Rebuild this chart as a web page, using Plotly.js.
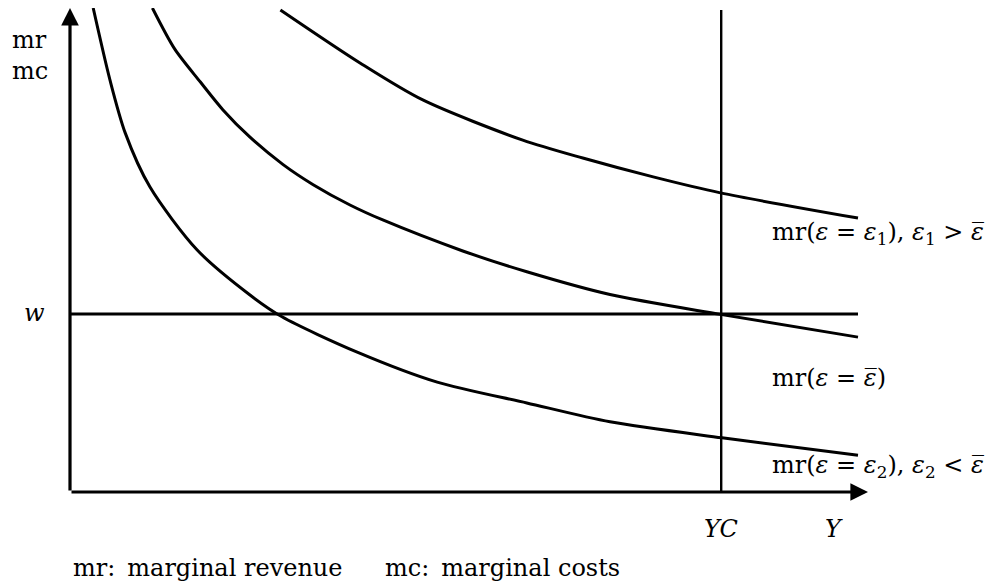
<!DOCTYPE html>
<html>
<head>
<meta charset="utf-8">
<script src="https://cdn.plot.ly/plotly-3.0.1.min.js"></script>
<style>
html,body{margin:0;padding:0;background:#fff;}
#chart{width:1007px;height:583px;}
</style>
</head>
<body>
<div id="chart"></div>
<script>
// Curve mr(eps = eps2), eps2 < eps-bar (lowest)
const lowX = [0.29, 0.50, 0.69, 1.00, 1.59, 2.25, 2.65, 3.59, 4.59, 5.71, 6.75, 8.15, 9.85];
const lowY = [10.0, 8.51, 7.42, 6.30, 5.00, 4.07, 3.62, 2.89, 2.27, 1.84, 1.45, 1.12, 0.76];
// Curve mr(eps = eps-bar) (middle)
const midX = [1.03, 1.31, 1.63, 1.91, 2.25, 2.66, 3.04, 3.50, 3.91, 4.91, 5.71, 6.75, 8.13, 9.85];
const midY = [10.0, 9.15, 8.47, 7.90, 7.33, 6.77, 6.35, 5.93, 5.62, 4.98, 4.55, 4.08, 3.67, 3.20];
// Curve mr(eps = eps1), eps1 > eps-bar (highest)
const highX = [2.63, 3.63, 4.41, 5.66, 6.41, 7.29, 8.13, 9.85];
const highY = [9.96, 8.86, 8.10, 7.27, 6.90, 6.51, 6.18, 5.66];
// wage level and YC capacity
const wLevel = 3.68;
const wLineX = [0, 9.85];
const ycLevel = 8.14;
const ycLineY = [0, 9.96];
// axes extents
const xAxisEnd = 9.975;
const yAxisEnd = 10.0;

const black = '#000';
const traces = [
  {x: lowX, y: lowY, mode: 'lines', line: {color: black, width: 3, shape: 'spline', smoothing: 0.8}},
  {x: midX, y: midY, mode: 'lines', line: {color: black, width: 3, shape: 'spline', smoothing: 0.8}},
  {x: highX, y: highY, mode: 'lines', line: {color: black, width: 3, shape: 'spline', smoothing: 0.8}},
  {x: wLineX, y: [wLevel, wLevel], mode: 'lines', line: {color: black, width: 3}},
  {x: [ycLevel, ycLevel], y: ycLineY, mode: 'lines', line: {color: black, width: 2.4}}
];

const F = 'DejaVu Serif';
const fs = 24;
function txt(x, y, text, xanchor) {
  return {x: x, y: y, xref: 'paper', yref: 'paper', text: text, showarrow: false,
    xanchor: xanchor || 'left', yanchor: 'middle', font: {family: F, size: fs, color: black}};
}
const sp = ' ';
const epsBar = '<i>ε</i>\u0305';
const annotations = [
  // axes with arrows
  {x: xAxisEnd, y: 0, ax: 0, ay: 0, axref: 'x', ayref: 'y', xref: 'x', yref: 'y', text: '',
   showarrow: true, arrowhead: 2, arrowsize: 1.1, arrowwidth: 3.2, arrowcolor: black, standoff: 0, startstandoff: 0},
  {x: 0, y: yAxisEnd, ax: 0, ay: 0, axref: 'x', ayref: 'y', xref: 'x', yref: 'y', text: '',
   showarrow: true, arrowhead: 2, arrowsize: 1.1, arrowwidth: 3.2, arrowcolor: black, standoff: 0, startstandoff: 0},
  txt(-0.075, 0.934, 'mr'),
  txt(-0.075, 0.870, 'mc'),
  txt(-0.045, 0.369, '<i>w</i>', 'center'),
  txt(0.875, 0.535, 'mr(<i>ε</i>' + sp + '=' + sp + '<i>ε</i><sub>1</sub>), <i>ε</i><sub>1</sub>' + sp + '&gt;' + sp + epsBar),
  txt(0.875, 0.2355, 'mr(<i>ε</i>' + sp + '=' + sp + epsBar + ')'),
  txt(0.875, 0.0517, 'mr(<i>ε</i>' + sp + '=' + sp + '<i>ε</i><sub>2</sub>), <i>ε</i><sub>2</sub>' + sp + '&lt;' + sp + epsBar),
  txt(0.81375, -0.0764, '<i>YC</i>', 'center'),
  txt(0.955, -0.0764, '<i>Y</i>', 'center'),
  txt(0.00125, -0.157, 'mr:\u2002marginal revenue'),
  txt(0.391, -0.157, 'mc:\u2002marginal costs')
];

const layout = {
  width: 1007, height: 583,
  margin: {l: 70, r: 137, t: 8, b: 91},
  paper_bgcolor: '#fff', plot_bgcolor: '#fff',
  showlegend: false,
  xaxis: {range: [0, 10], visible: false, fixedrange: true},
  yaxis: {range: [0, 10], visible: false, fixedrange: true},
  annotations: annotations
};
Plotly.newPlot('chart', traces, layout, {displayModeBar: false, staticPlot: true});
</script>
</body>
</html>
